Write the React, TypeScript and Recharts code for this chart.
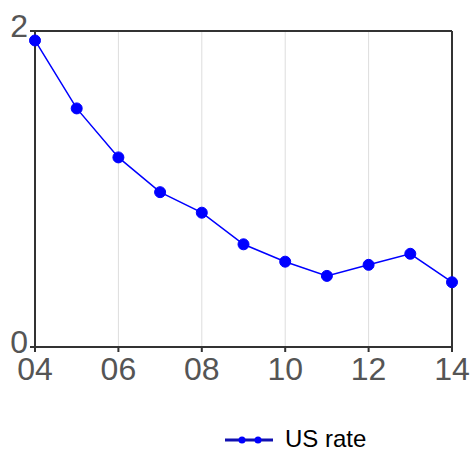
import React from "react";
import { LineChart, Line, XAxis, YAxis, CartesianGrid, ReferenceLine } from "recharts";

const years = [2004, 2005, 2006, 2007, 2008, 2009, 2010, 2011, 2012, 2013, 2014];
const usRate = [1.94, 1.51, 1.2, 0.98, 0.85, 0.65, 0.54, 0.45, 0.52, 0.59, 0.41];
const xTicks = [2004, 2006, 2008, 2010, 2012, 2014];
const yTicks = [0, 2];
const seriesName = "US rate";

const data = years.map((y, i) => ({ year: y, rate: usRate[i] }));

const FONT = "'Liberation Sans', Arial, sans-serif";

export default function App() {
  return (
    <div style={{ position: "absolute", left: 0, top: 0, width: 471, height: 453, background: "#fff" }}>
      <LineChart
        width={471}
        height={453}
        data={data}
        margin={{ top: 31, right: 19, left: 0, bottom: 66 }}
      >
        <CartesianGrid horizontal={false} stroke="#dddddd" strokeWidth={1} />
        <XAxis
          dataKey="year"
          type="number"
          domain={[2004, 2014]}
          ticks={xTicks}
          tickFormatter={(v: number) => String(v % 100).padStart(2, "0")}
          height={40}
          stroke="#333"
          strokeWidth={2}
          tickSize={5}
          tickMargin={5}
          tick={{ fill: "#555", fontSize: 32, fontFamily: FONT }}
          tickLine={{ stroke: "#333", strokeWidth: 2 }}
          interval={0}
        />
        <YAxis
          type="number"
          domain={[0, 2]}
          ticks={yTicks}
          width={35}
          stroke="#333"
          strokeWidth={2}
          tickSize={5}
          tickMargin={2}
          tick={{ fill: "#555", fontSize: 32, fontFamily: FONT, dy: -5 }}
          tickLine={{ stroke: "#333", strokeWidth: 2 }}
          interval={0}
        />
        <ReferenceLine y={2} stroke="#333" strokeWidth={2} />
        <ReferenceLine x={2014} stroke="#333" strokeWidth={2} />
        <Line
          dataKey="rate"
          type="linear"
          stroke="#0000ff"
          strokeWidth={1.5}
          dot={{ r: 5.5, fill: "#0000ff", stroke: "#0000ff", strokeWidth: 1 }}
          isAnimationActive={false}
        />
      </LineChart>
      <div style={{ position: "absolute", left: 225, top: 428, height: 22, display: "flex", alignItems: "center" }}>
        <svg width={48} height={12} style={{ display: "block", marginTop: 2 }}>
          <line x1={0} y1={6} x2={48} y2={6} stroke="#1010b0" strokeWidth={3} />
          <circle cx={17} cy={6} r={3.5} fill="#0000ff" />
          <circle cx={33} cy={6} r={3.5} fill="#0000ff" />
        </svg>
        <span style={{ marginLeft: 12, fontFamily: FONT, fontSize: 24, color: "#000", lineHeight: "22px", height: 22 }}>{seriesName}</span>
      </div>
    </div>
  );
}
